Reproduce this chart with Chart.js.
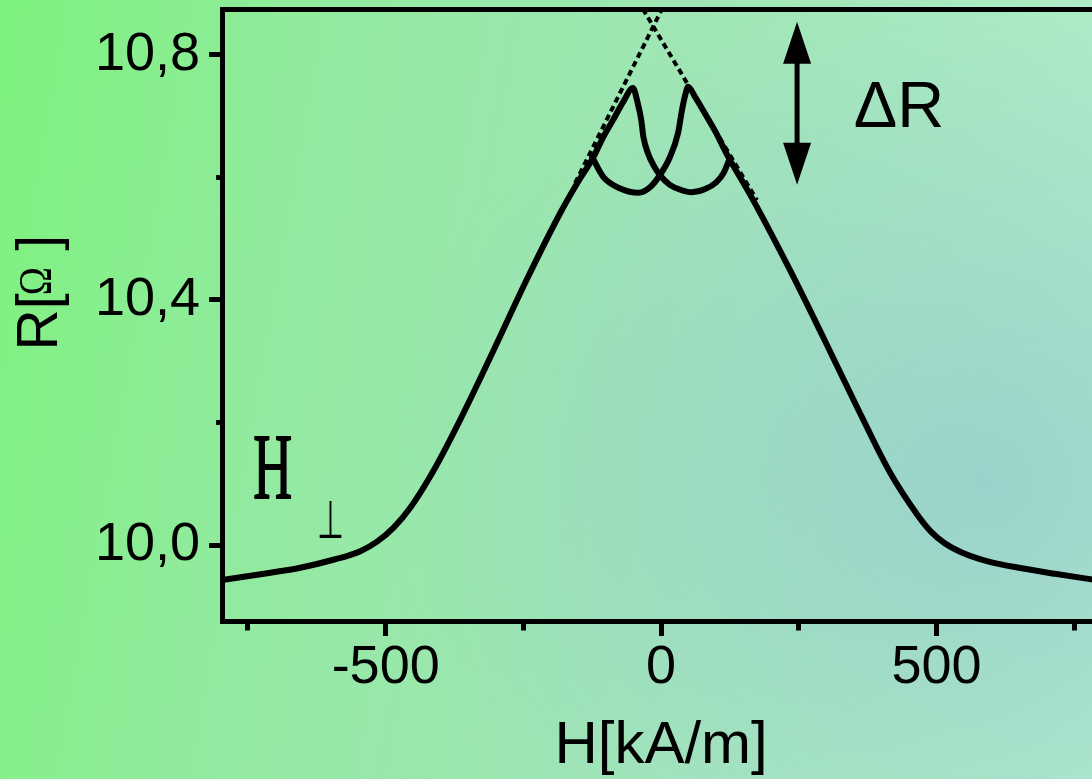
<!DOCTYPE html>
<html>
<head>
<meta charset="utf-8">
<script src="https://cdn.jsdelivr.net/npm/chart.js@4.4.1/dist/chart.umd.min.js"></script>
<style>
  html, body { margin: 0; padding: 0; width: 1092px; height: 779px; overflow: hidden; }
  body {
    background:
      radial-gradient(ellipse 55% 65% at 90% 62%, rgba(146,200,206,0.7) 0%, rgba(146,200,206,0) 100%),
      linear-gradient(100deg, #7ef27e 0%, #92eaa0 28%, #9fe6b4 55%, #b4eecc 100%);
  }
  #wrap { position: absolute; left: 0; top: 0; width: 1100px; height: 779px; }
</style>
</head>
<body>
<div id="wrap"><canvas id="c" width="1100" height="779"></canvas></div>
<script>
// ---- Data ----
// Branch with the peak at negative field, H in kA/m, R in Ohm
const hBranchA = [-797, -715, -655, -595, -546, -515, -486, -456, -414, -365, -304, -244, -183, -152, -123,
                  -105, -87, -69, -51, -42, -36, -32, -24, -13, -2, 16, 35, 56, 80, 100, 114, 125];
const rBranchA = [9.943, 9.954, 9.963, 9.976, 9.990, 10.006, 10.028, 10.060, 10.120, 10.204, 10.318, 10.433, 10.542, 10.591, 10.633,
                  10.666, 10.694, 10.723, 10.746, 10.720, 10.694, 10.666, 10.640, 10.619, 10.604, 10.588, 10.580, 10.576, 10.581, 10.592, 10.608, 10.632];
// Branch with the peak at positive field
const hBranchB = [-125, -105, -74, -41, -20, -2, 16, 31, 38, 44, 49, 62, 76, 98, 120,
                  156, 174, 234, 294, 356, 416, 465, 490, 515, 546, 595, 655, 715, 797];
const rBranchB = [10.633, 10.601, 10.582, 10.575, 10.584, 10.604, 10.633, 10.673, 10.710, 10.735, 10.748, 10.731, 10.710, 10.676, 10.637,
                  10.581, 10.552, 10.449, 10.340, 10.225, 10.118, 10.050, 10.022, 10.003, 9.988, 9.973, 9.962, 9.953, 9.942];
// Dashed linear extrapolations
const hDashLeft = [-156, 0];
const rDashLeft = [10.591, 10.872];
const hDashRight = [-33, 174];
const rDashRight = [10.875, 10.563];
// Axis ranges and ticks
const xRange = [-797, 797];
const yRange = [9.876, 10.875];
const xStep = 250;          // labels every 500
const yStep = 0.2;          // labels every 0.4
// Annotations (data coordinates)
const arrowH = 247, arrowTopR = 10.854, arrowBottomR = 10.588;
const deltaLabel = { h: 350, r: 10.682, text: 'ΔR' };
const hLabel = { h: -705, r: 10.077, text: 'H' };
const perpLabel = { h: -600, r: 10.011, text: '⊥' };
const xTitle = 'H[kA/m]';
const yTitleParts = ['R[', 'Ω', ' ]'];

const toPts = (hs, rs) => hs.map((h, i) => ({ x: h, y: rs[i] }));
const SANS = "'Liberation Sans', Arial, Helvetica, sans-serif";
const SERIF = "'Liberation Serif', 'Times New Roman', serif";

const isMajorX = v => Math.abs(Math.round(v) % 500) === 0;
const isMajorY = v => Math.round(v * 10) % 4 === 0;

const annotations = {
  id: 'annotations',
  afterDatasetsDraw(chart) {
    const { ctx, scales: { x, y } } = chart;
    ctx.save();
    ctx.fillStyle = '#000';
    ctx.strokeStyle = '#000';
    // double arrow
    const ax = x.getPixelForValue(arrowH);
    const yt = y.getPixelForValue(arrowTopR);
    const yb = y.getPixelForValue(arrowBottomR);
    const headL = 42, headW = 14;
    ctx.lineWidth = 5;
    ctx.beginPath(); ctx.moveTo(ax, yt + headL - 2); ctx.lineTo(ax, yb - headL + 2); ctx.stroke();
    ctx.beginPath(); ctx.moveTo(ax, yt); ctx.lineTo(ax - headW, yt + headL); ctx.lineTo(ax + headW, yt + headL); ctx.closePath(); ctx.fill();
    ctx.beginPath(); ctx.moveTo(ax, yb); ctx.lineTo(ax - headW, yb - headL); ctx.lineTo(ax + headW, yb - headL); ctx.closePath(); ctx.fill();
    // ΔR
    ctx.font = '65px ' + SANS;
    ctx.textAlign = 'left'; ctx.textBaseline = 'alphabetic';
    ctx.fillText(deltaLabel.text, x.getPixelForValue(deltaLabel.h), y.getPixelForValue(deltaLabel.r));
    // condensed serif H (slightly thickened)
    ctx.save();
    ctx.font = '93px ' + SERIF;
    const mh = ctx.measureText(hLabel.text);
    const wh = mh.actualBoundingBoxLeft + mh.actualBoundingBoxRight;
    ctx.translate(x.getPixelForValue(hLabel.h), y.getPixelForValue(hLabel.r));
    ctx.scale(36.5 / wh, 1);
    const hx0 = -(mh.actualBoundingBoxRight - mh.actualBoundingBoxLeft) / 2;
    ctx.fillText(hLabel.text, hx0, 0);
    ctx.lineWidth = 1.8;
    ctx.lineJoin = 'round';
    ctx.strokeText(hLabel.text, hx0, 0);
    ctx.restore();
    // perpendicular sign
    ctx.save();
    ctx.font = "200 60px 'DejaVu Sans', sans-serif";
    const mp = ctx.measureText(perpLabel.text);
    const wp = mp.actualBoundingBoxLeft + mp.actualBoundingBoxRight;
    const hp = mp.actualBoundingBoxAscent + mp.actualBoundingBoxDescent;
    ctx.translate(x.getPixelForValue(perpLabel.h), y.getPixelForValue(perpLabel.r));
    ctx.scale(22.4 / wp, 38.3 / hp);
    ctx.fillText(perpLabel.text, -(mp.actualBoundingBoxRight - mp.actualBoundingBoxLeft) / 2, -mp.actualBoundingBoxDescent);
    ctx.restore();
    ctx.restore();
  },
  afterDraw(chart) {
    // y-axis title "R[Ω ]" with a serif Omega, rotated, to the left of the tick labels
    const { ctx, chartArea } = chart;
    ctx.save();
    ctx.fillStyle = '#000';
    ctx.textAlign = 'left'; ctx.textBaseline = 'alphabetic';
    const cy = chartArea.top + (chartArea.bottom - chartArea.top) * 0.558;  // start (bottom) of the rotated title
    ctx.translate(57, cy);
    ctx.rotate(-Math.PI / 2);
    ctx.font = '57px ' + SANS;
    ctx.fillText(yTitleParts[0], 0, 0);
    const adv = ctx.measureText(yTitleParts[0]).width;
    // Omega: fit its ink box, raised above the baseline
    ctx.save();
    ctx.font = '44px ' + SERIF;
    const mo = ctx.measureText(yTitleParts[1]);
    const ow = mo.actualBoundingBoxLeft + mo.actualBoundingBoxRight;
    const oh = mo.actualBoundingBoxAscent + mo.actualBoundingBoxDescent;
    ctx.translate(adv, -6);
    ctx.scale(25 / ow, 30 / oh);
    ctx.fillText(yTitleParts[1], mo.actualBoundingBoxLeft, -mo.actualBoundingBoxDescent);
    ctx.restore();
    ctx.font = '57px ' + SANS;
    ctx.fillText(yTitleParts[2], adv + 27, 0);
    ctx.restore();
  }
};

const lineDs = (pts, extra) => Object.assign({
  data: pts, showLine: true, borderColor: '#000', backgroundColor: '#000',
  pointRadius: 0, pointHoverRadius: 0, fill: false
}, extra);

new Chart(document.getElementById('c'), {
  type: 'scatter',
  data: {
    datasets: [
      lineDs(toPts(hBranchA, rBranchA), { borderWidth: 6, cubicInterpolationMode: 'monotone', borderCapStyle: 'round', borderJoinStyle: 'round' }),
      lineDs(toPts(hBranchB, rBranchB), { borderWidth: 6, cubicInterpolationMode: 'monotone', borderCapStyle: 'round', borderJoinStyle: 'round' }),
      lineDs(toPts(hDashLeft, rDashLeft), { borderWidth: 4, borderDash: [6, 4], tension: 0 }),
      lineDs(toPts(hDashRight, rDashRight), { borderWidth: 4, borderDash: [6, 4], tension: 0 })
    ]
  },
  options: {
    responsive: false,
    animation: false,
    devicePixelRatio: 1,
    layout: { padding: { left: 86, top: 9, right: 0, bottom: 0 } },
    plugins: { legend: { display: false }, tooltip: { enabled: false } },
    scales: {
      x: {
        type: 'linear', position: 'bottom', min: xRange[0], max: xRange[1],
        afterFit(s) { s.paddingLeft = 0; s.paddingRight = 0; },
        border: { display: true, color: '#000', width: 5 },
        grid: {
          display: true, drawOnChartArea: false, drawTicks: true, tickLength: 15,
          tickColor: '#000', tickWidth: 5,
          tickBorderDash: ctx => (ctx.tick && isMajorX(ctx.tick.value)) ? [] : [6.5, 100]
        },
        ticks: {
          stepSize: xStep, includeBounds: false, autoSkip: false, maxRotation: 0,
          padding: 0, color: '#000', font: { family: SANS, size: 54 },
          callback: v => isMajorX(v) ? String(Math.round(v)) : ''
        },
        title: { display: true, text: xTitle, color: '#000', font: { family: SANS, size: 60 }, padding: { top: 9.2, bottom: -3 } }
      },
      x2: {
        type: 'linear', position: 'top', min: xRange[0], max: xRange[1],
        border: { display: true, color: '#000', width: 5 },
        grid: { display: true, drawOnChartArea: false, drawTicks: false },
        ticks: { display: false }
      },
      y: {
        type: 'linear', position: 'left', min: yRange[0], max: yRange[1],
        afterFit(s) { s.paddingTop = 0; s.paddingBottom = 0; },
        border: { display: true, color: '#000', width: 5 },
        grid: {
          display: true, drawOnChartArea: false, drawTicks: true, tickLength: 13,
          tickColor: '#000', tickWidth: 5,
          tickBorderDash: ctx => (ctx.tick && isMajorY(ctx.tick.value)) ? [] : [0, 7, 6, 100]
        },
        ticks: {
          stepSize: yStep, includeBounds: false, autoSkip: false,
          padding: 9, color: '#000', font: { family: SANS, size: 54 },
          callback: v => isMajorY(v) ? v.toFixed(1).replace('.', ',') : ''
        },
        title: { display: false }
      }
    }
  },
  plugins: [annotations]
});
</script>
</body>
</html>
